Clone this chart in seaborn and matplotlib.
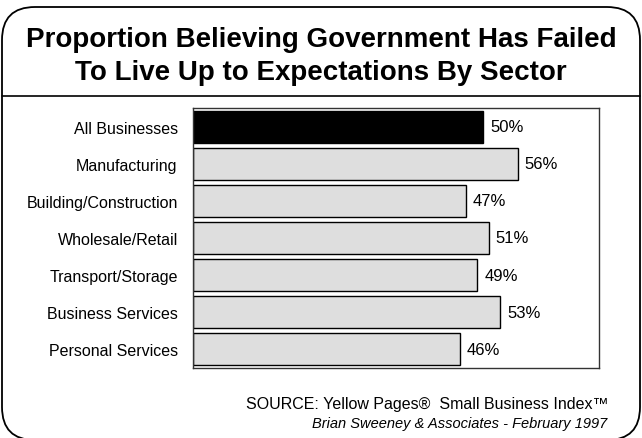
import matplotlib
matplotlib.use("Agg")
import matplotlib.pyplot as plt
from matplotlib.patches import FancyBboxPatch
from matplotlib.lines import Line2D
import seaborn as sns
import pandas as pd

sectors = ["All Businesses", "Manufacturing", "Building/Construction",
           "Wholesale/Retail", "Transport/Storage", "Business Services",
           "Personal Services"]
percent = [50, 56, 47, 51, 49, 53, 46]
bar_colors = ["#000000", "#dedede", "#dedede", "#dedede", "#dedede",
              "#dedede", "#dedede"]

title_lines = ["Proportion Believing Government Has Failed",
               "To Live Up to Expectations By Sector"]
source_line = "SOURCE: Yellow Pages\u00ae  Small Business Index\u2122"
credit_line = "Brian Sweeney & Associates - February 1997"

sns.set_theme(style="white")
plt.rcParams["font.family"] = ["Liberation Sans", "DejaVu Sans"]

W, H = 642, 439
fig = plt.figure(figsize=(W / 100, H / 100), dpi=100)
fig.patch.set_facecolor("white")

ax = fig.add_axes([193 / W, 1 - 369 / H, (599 - 193) / W, (369 - 109) / H])

df = pd.DataFrame({"sector": sectors, "pct": percent})
sns.barplot(data=df, x="pct", y="sector", hue="sector", palette=bar_colors,
            legend=False, ax=ax, width=0.86, edgecolor="black", linewidth=1.0,
            saturation=1)

ax.set_xlim(0, 70)
ax.set_xlabel("")
ax.set_ylabel("")
ax.set_xticks([])
ax.tick_params(axis="y", length=0, pad=11, labelsize=11.5, labelcolor="black")
for s in ax.spines.values():
    s.set_visible(True)
    s.set_color("#333333")
    s.set_linewidth(1.0)

for i, v in enumerate(percent):
    ax.annotate(f"{v}%", xy=(v, i), xytext=(5, 0), textcoords="offset points",
                va="center", ha="left", fontsize=12, color="black")

# rounded outer frame
frame = FancyBboxPatch((2 / W, 1 - 441 / H), (640 - 2) / W, (441 - 8) / H,
                       boxstyle=f"round,pad=0,rounding_size={33 / W}",
                       mutation_aspect=W / H, transform=fig.transFigure,
                       facecolor="none", edgecolor="black", linewidth=1.3,
                       clip_on=False)
fig.add_artist(frame)

# rule under the title
fig.add_artist(Line2D([2 / W, 640 / W], [1 - 97 / H, 1 - 97 / H],
                      transform=fig.transFigure, color="black", linewidth=1.2))

fig.text(0.5, 1 - 47 / H, title_lines[0], ha="center", va="baseline",
         fontsize=20, fontweight="bold", color="black")
fig.text(0.5, 1 - 80 / H, title_lines[1], ha="center", va="baseline",
         fontsize=20, fontweight="bold", color="black")

fig.text(609 / W, 1 - 409 / H, source_line, ha="right", va="baseline",
         fontsize=11.5, color="black")
fig.text(607 / W, 1 - 428 / H, credit_line, ha="right", va="baseline",
         fontsize=10.5, fontstyle="italic", color="black")

fig.savefig("out.png", dpi=100)
